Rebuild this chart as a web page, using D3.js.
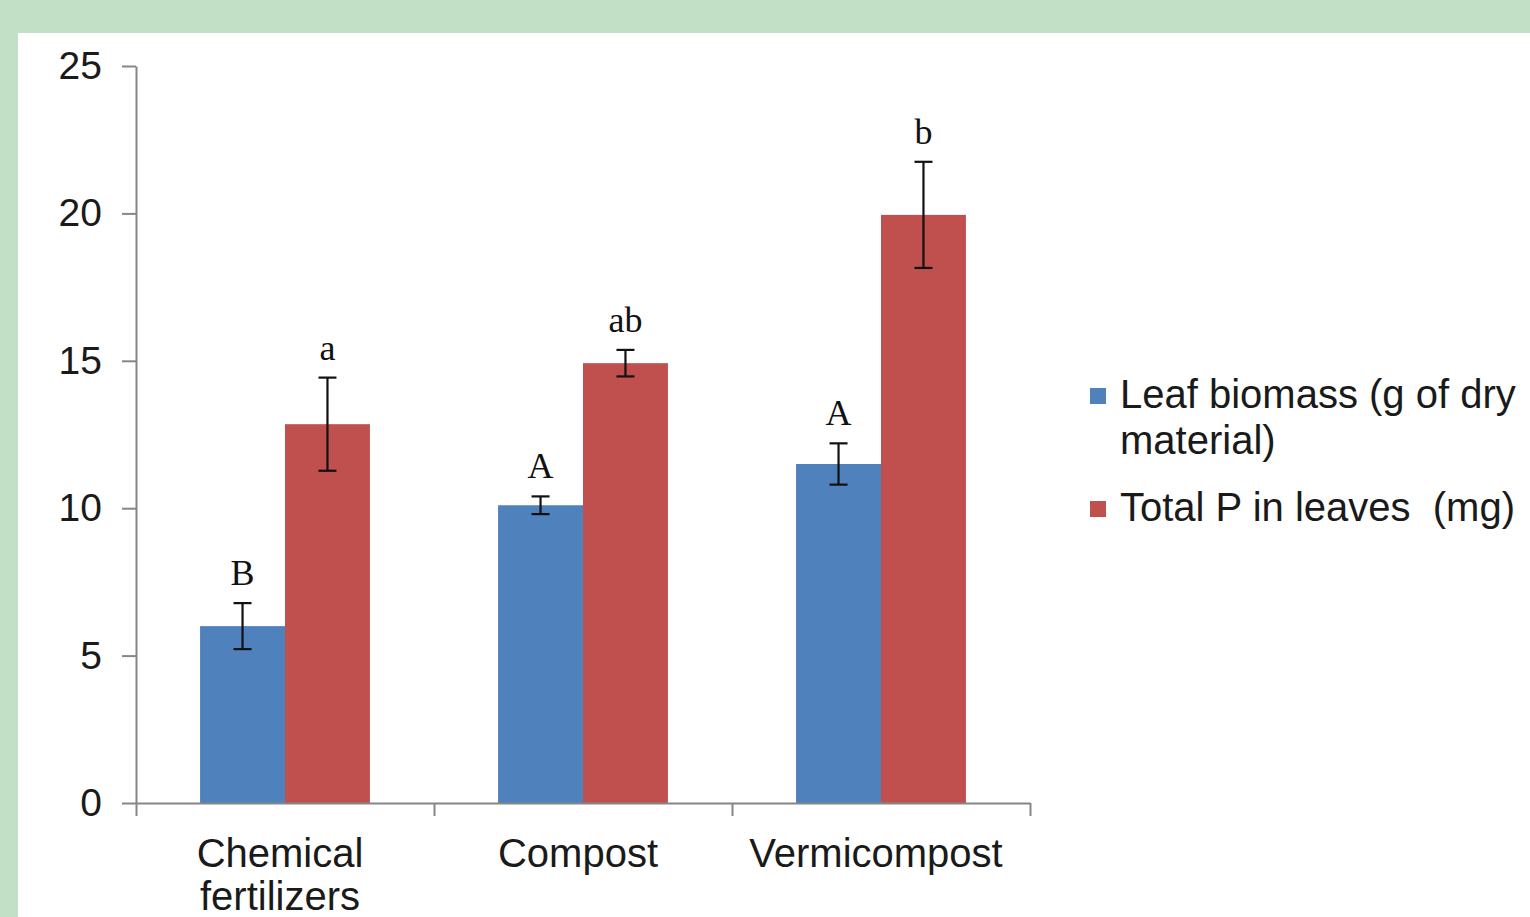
<!DOCTYPE html>
<html>
<head>
  <meta charset="utf-8">
  <title>Leaf biomass and total P</title>
  <script src="https://cdn.jsdelivr.net/npm/d3@7"></script>
  <style>
    body { margin: 0; }
    .tick text { font-family: "Liberation Sans", Arial, sans-serif; fill: #1a1a1a; }
    .catLabel, .legendText { font-family: "Liberation Sans", Arial, sans-serif; fill: #1a1a1a; }
    .letter { font-family: "Liberation Serif", "Times New Roman", serif; fill: #111; }
  </style>
</head>
<body>
<script>
  // data
  var categories = ["Chemical fertilizers", "Compost", "Vermicompost"];
  var series = ["Leaf biomass (g of dry material)", "Total P in leaves  (mg)"];
  var leafBiomass = [6.0, 10.1, 11.5];
  var leafErr = [0.78, 0.3, 0.7];
  var totalP = [12.85, 14.92, 19.95];
  var totalPErr = [1.58, 0.45, 1.8];
  var leafLetters = ["B", "A", "A"];
  var pLetters = ["a", "ab", "b"];
  var yTicks = [0, 5, 10, 15, 20, 25];
  var colors = ["#4f81bd", "#c0504d"];

  var width = 1530, height = 917;
  var plotLeft = 136, plotRight = 1030, plotTop = 66, plotBottom = 803;

  var svg = d3.select("body").append("svg")
    .attr("width", width)
    .attr("height", height);

  // green frame + white panel
  svg.append("rect").attr("width", width).attr("height", height).attr("fill", "#c1e0c5");
  svg.append("rect").attr("x", 18).attr("y", 33).attr("width", width - 18).attr("height", height - 33).attr("fill", "#fff");

  var yScale = d3.scaleLinear().domain([0, 25]).range([plotBottom, plotTop]);

  var xBand = d3.scaleBand().domain(categories).range([plotLeft, plotRight])
    .paddingInner(0.43).paddingOuter(0.215);
  var xSub = d3.scaleBand().domain(series).range([0, xBand.bandwidth()]);

  // rows of bar data
  var rows = [];
  categories.forEach(function(c, i) {
    rows.push({cat: c, s: series[0], v: leafBiomass[i], e: leafErr[i], letter: leafLetters[i], col: colors[0]});
    rows.push({cat: c, s: series[1], v: totalP[i], e: totalPErr[i], letter: pLetters[i], col: colors[1]});
  });

  function cx(d) { return xBand(d.cat) + xSub(d.s) + xSub.bandwidth() / 2; }

  svg.selectAll(".bar")
    .data(rows)
    .enter()
    .append("rect")
    .attr("class", "bar")
    .attr("x", function(d) { return xBand(d.cat) + xSub(d.s); })
    .attr("y", function(d) { return yScale(d.v); })
    .attr("width", xSub.bandwidth())
    .attr("height", function(d) { return yScale(0) - yScale(d.v); })
    .attr("fill", function(d) { return d.col; });

  // error bars
  var eb = svg.selectAll(".err").data(rows).enter().append("g").attr("class", "err")
    .attr("stroke", "#111").attr("stroke-width", 2.2);
  eb.append("line")
    .attr("x1", cx).attr("x2", cx)
    .attr("y1", function(d) { return yScale(d.v + d.e); })
    .attr("y2", function(d) { return yScale(d.v - d.e); });
  eb.append("line")
    .attr("x1", function(d) { return cx(d) - 9; }).attr("x2", function(d) { return cx(d) + 9; })
    .attr("y1", function(d) { return yScale(d.v + d.e); })
    .attr("y2", function(d) { return yScale(d.v + d.e); });
  eb.append("line")
    .attr("x1", function(d) { return cx(d) - 9; }).attr("x2", function(d) { return cx(d) + 9; })
    .attr("y1", function(d) { return yScale(d.v - d.e); })
    .attr("y2", function(d) { return yScale(d.v - d.e); });

  // significance letters
  svg.selectAll(".letter")
    .data(rows)
    .enter()
    .append("text")
    .attr("class", "letter")
    .attr("x", cx)
    .attr("y", function(d) { return yScale(d.v + d.e) - 18; })
    .attr("text-anchor", "middle")
    .style("font-size", "36px")
    .text(function(d) { return d.letter; });

  // y axis
  var yAxis = d3.axisLeft(yScale).tickValues(yTicks).tickSize(14).tickSizeOuter(0).tickPadding(20);
  var gy = svg.append("g").attr("transform", "translate(" + plotLeft + ",0)").call(yAxis);
  gy.selectAll("path, line").attr("stroke", "#868686").attr("stroke-width", 2);
  gy.selectAll("text").style("font-size", "39px");

  // x axis with dividers between categories
  var xDiv = d3.scaleLinear().domain([0, categories.length]).range([plotLeft, plotRight]);
  var xAxis = d3.axisBottom(xDiv).tickValues(d3.range(categories.length + 1))
    .tickFormat("").tickSize(13).tickSizeOuter(0);
  var gx = svg.append("g").attr("transform", "translate(0," + plotBottom + ")").call(xAxis);
  gx.selectAll("path, line").attr("stroke", "#868686").attr("stroke-width", 2);

  // category labels (wrapped)
  var labelLines = [["Chemical", "fertilizers"], ["Compost"], ["Vermicompost"]];
  categories.forEach(function(c, i) {
    var t = svg.append("text").attr("class", "catLabel")
      .attr("text-anchor", "middle")
      .style("font-size", "40px");
    labelLines[i].forEach(function(line, j) {
      t.append("tspan")
        .attr("x", xBand(c) + xBand.bandwidth() / 2 - 5)
        .attr("y", 867 + j * 43)
        .text(line);
    });
  });

  // legend
  var legendLines = [["Leaf biomass (g of dry", "material)"], ["Total P in leaves  (mg)"]];
  var legendY = [408, 521];
  series.forEach(function(s, i) {
    svg.append("rect")
      .attr("x", 1090).attr("y", legendY[i] - 20)
      .attr("width", 16).attr("height", 16)
      .attr("fill", colors[i]);
    var t = svg.append("text").attr("class", "legendText")
      .style("font-size", "40px")
      .style("white-space", "pre");
    legendLines[i].forEach(function(line, j) {
      t.append("tspan").attr("x", 1120).attr("y", legendY[i] + j * 46).text(line);
    });
  });
</script>
</body>
</html>
